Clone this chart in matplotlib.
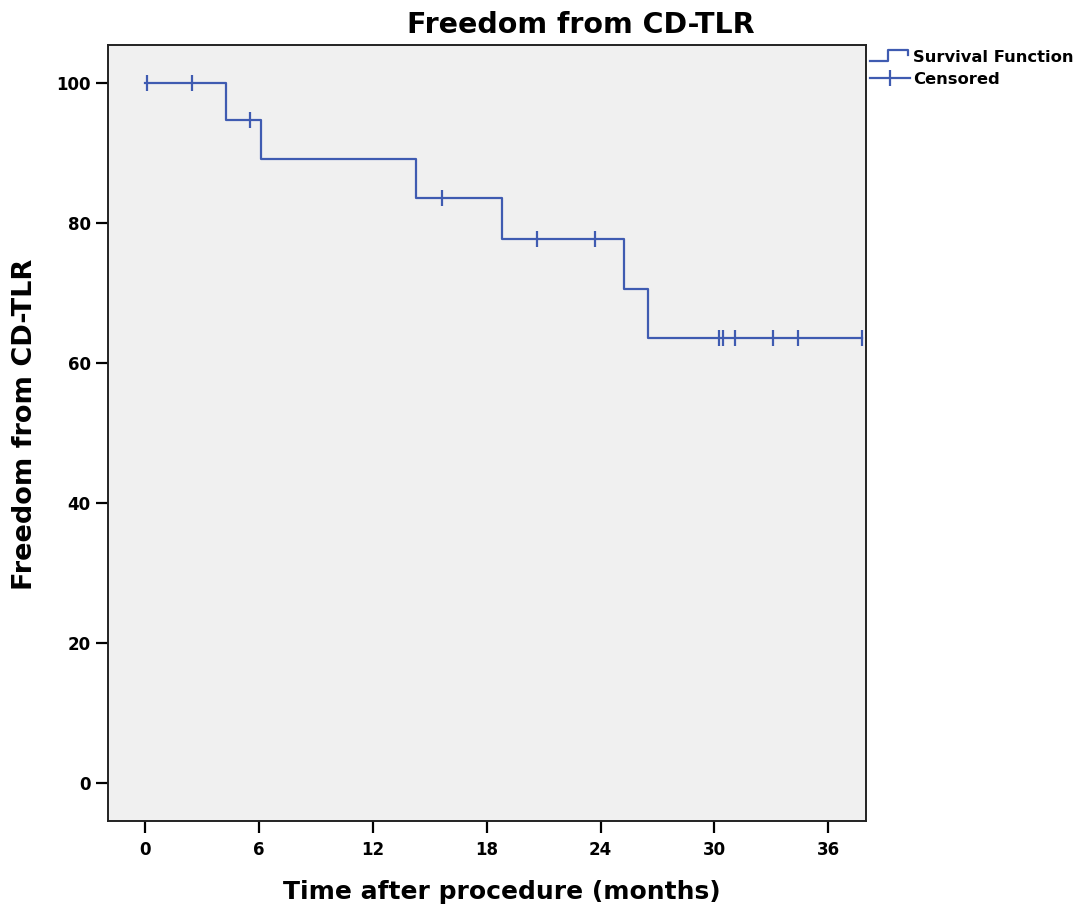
import matplotlib
matplotlib.use("Agg")
import matplotlib.pyplot as plt
from matplotlib.legend_handler import HandlerBase
from matplotlib.lines import Line2D

plt.rcParams['font.family'] = ['DejaVu Sans']
plt.rcParams['font.weight'] = 'bold'

# Kaplan-Meier estimate (event times in months, freedom in %)
event_times = [0, 4.27, 6.1, 14.26, 18.8, 25.26, 26.5]
survival = [100, 94.7, 89.1, 83.5, 77.6, 70.5, 63.5]
last_followup = 37.8

# censored observations
censor_times = [0.07, 2.48, 5.5, 15.63, 20.67, 23.7, 30.27, 30.45, 31.1, 33.1, 34.4, 37.8]
censor_vals = [100, 100, 94.7, 83.5, 77.6, 77.6, 63.5, 63.5, 63.5, 63.5, 63.5, 63.5]

xticks = [0, 6, 12, 18, 24, 30, 36]
yticks = [0, 20, 40, 60, 80, 100]

blue = '#3F5BB1'


class StepHandler(HandlerBase):
    # legend icon shaped like a step
    def create_artists(self, legend, orig_handle, xdescent, ydescent,
                       width, height, fontsize, trans):
        x0, x1 = -xdescent, -xdescent + width
        y0, y1 = -ydescent + 0.05 * height, -ydescent + 1.05 * height
        xm = x0 + 0.45 * width
        ln = Line2D([x0, xm, xm, x1 - 0.05 * width, x1 - 0.05 * width],
                    [y0, y0, y1, y1, y0 + 0.6 * height],
                    color=orig_handle.get_color(), lw=orig_handle.get_linewidth(),
                    transform=trans)
        return [ln]


fig = plt.figure(figsize=(10.84, 9.09), dpi=100)
ax = fig.add_axes([0.0992, 0.0968, 0.6997, 0.854])
ax.set_facecolor('#F0F0F0')

xs = event_times + [last_followup]
ys = survival + [survival[-1]]
surv_line, = ax.step(xs, ys, where='post', color=blue, lw=1.6)
ax.plot(censor_times, censor_vals, ls='none', marker='|', ms=11,
        mew=1.6, color=blue)

ax.set_xlim(-2.0, 38.0)
ax.set_ylim(-5.47, 105.4)
ax.set_xticks(xticks)
ax.set_yticks(yticks)
ax.tick_params(axis='both', direction='out', length=8.5, width=1.6, labelsize=12)
ax.tick_params(axis='x', pad=6)
ax.tick_params(axis='y', pad=3.5)
for lab in ax.get_xticklabels() + ax.get_yticklabels():
    lab.set_fontweight('bold')
for sp in ax.spines.values():
    sp.set_linewidth(1.4)
    sp.set_color('#222222')

xl = ax.set_xlabel('Time after procedure (months)', fontsize=18, fontweight='bold')
ax.xaxis.set_label_coords(0.520, -0.1005)
xl.set_verticalalignment('baseline')
yl = ax.set_ylabel('Freedom from CD-TLR', fontsize=19.5, fontweight='bold')
ax.yaxis.set_label_coords(-0.0995, 0.511)
yl.set_verticalalignment('baseline')

fig.text(581 / 1084, 1 - 33 / 909, 'Freedom from CD-TLR', fontsize=20.5,
         fontweight='bold', ha='center', va='baseline')

cens_handle = Line2D([], [], color=blue, lw=1.6, marker='|', ms=11, mew=1.6)
leg = fig.legend([surv_line, cens_handle], ['Survival Function', 'Censored'],
                 handler_map={surv_line: StepHandler()},
                 loc='upper left', bbox_to_anchor=(870 / 1084, 1 - 50 / 909),
                 frameon=False, fontsize=11.8, handlelength=2.45,
                 handletextpad=0.2, labelspacing=0.4, borderpad=0,
                 borderaxespad=0)
for t in leg.get_texts():
    t.set_fontweight('bold')

fig.savefig('out.png', dpi=100)
